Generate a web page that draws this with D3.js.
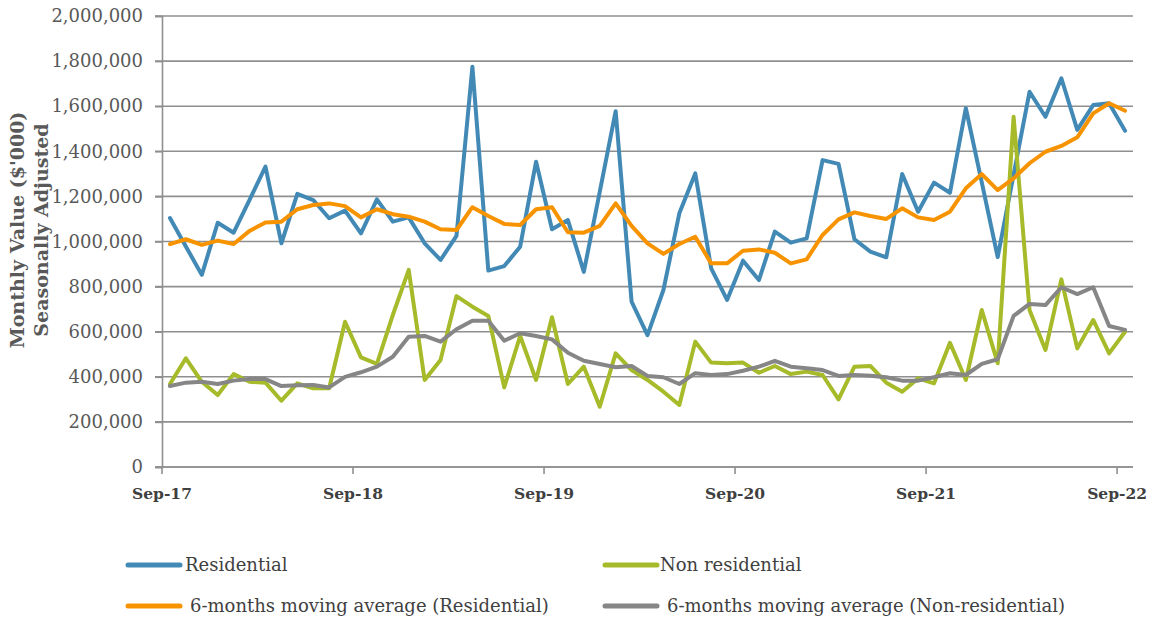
<!DOCTYPE html>
<html>
<head>
<meta charset="utf-8">
<script src="https://cdn.jsdelivr.net/npm/d3@7"></script>
<style>
  body { margin: 0; background: #fff; }
  text { font-family: "DejaVu Serif", serif; }
</style>
</head>
<body>
<svg id="chart"></svg>
<script>
// monthly values in $'000, Sep-17 .. Sep-22
const residential = [1104, 978, 852, 1083, 1039, 1185, 1332, 992, 1211, 1184,
    1103, 1137, 1036, 1187, 1088, 1107, 992, 918, 1025, 1775,
    871, 891, 977, 1354, 1054, 1095, 865, 1220, 1578, 733,
    585, 785, 1125, 1302, 881, 741, 915, 829, 1044, 995,
    1014, 1361, 1344, 1010, 955, 930, 1299, 1132, 1261, 1216,
    1591, 1262, 931, 1297, 1664, 1553, 1724, 1495, 1605, 1613, 1491];
const nonResidential = [368, 482, 378, 319, 412, 378, 374, 294, 371, 349,
    349, 644, 486, 457, 674, 874, 386, 475, 758, 711,
    670, 353, 581, 386, 664, 368, 445, 267, 504, 430,
    386, 334, 275, 556, 463, 460, 463, 418, 448, 412,
    423, 408, 300, 445, 448, 374, 334, 393, 371, 551,
    386, 696, 460, 1553, 696, 519, 832, 526, 652, 504, 600];
const resAverage = [988, 1010, 985, 1004, 989, 1047, 1084, 1088, 1143, 1162,
    1169, 1157, 1107, 1143, 1121, 1110, 1088, 1054, 1051, 1152,
    1113, 1078, 1073, 1143, 1152, 1041, 1039, 1069, 1169, 1069,
    992, 945, 989, 1021, 903, 903, 959, 965, 950, 903,
    921, 1029, 1098, 1129, 1113, 1100, 1147, 1107, 1095, 1132,
    1236, 1299, 1228, 1280, 1347, 1398, 1424, 1462, 1568, 1613, 1580];
const nonResAverage = [359, 374, 378, 368, 383, 390, 390, 359, 362, 364,
    353, 400, 420, 445, 489, 578, 581, 556, 611, 649,
    649, 560, 593, 581, 566, 507, 471, 457, 442, 448,
    404, 398, 368, 416, 408, 412, 427, 445, 471, 445,
    438, 430, 404, 408, 405, 398, 383, 383, 398, 416,
    408, 457, 478, 670, 723, 718, 797, 767, 797, 625, 608];
const xTickLabels = ["Sep-17", "Sep-18", "Sep-19", "Sep-20", "Sep-21", "Sep-22"];
const yTicks = [0, 200000, 400000, 600000, 800000, 1000000, 1200000, 1400000, 1600000, 1800000, 2000000];

const series = [
    {name: "Residential", values: residential, color: "#428ab5"},
    {name: "Non residential", values: nonResidential, color: "#a6ba2a"},
    {name: "6-months moving average (Residential)", values: resAverage, color: "#f89300"},
    {name: "6-months moving average (Non-residential)", values: nonResAverage, color: "#868686"}
];

const width = 1164, height = 620;
const svg = d3.select("#chart").attr("width", width).attr("height", height);

const months = d3.range(residential.length);
const x = d3.scaleBand()
    .domain(months)
    .range([162, 1133]);
const y = d3.scaleLinear()
    .domain([0, 2000000])
    .range([467, 16]);

// grid
svg.append("g")
    .selectAll("line")
    .data(yTicks)
    .enter()
    .append("line")
        .attr("x1", 155)
        .attr("x2", 1133)
        .attr("y1", d => y(d))
        .attr("y2", d => y(d))
        .attr("stroke", "#8f8f8f")
        .attr("stroke-width", 1.6);

// y axis
const yAxis = svg.append("g")
    .attr("transform", "translate(162,0)")
    .call(d3.axisLeft(y)
        .tickValues(yTicks)
        .tickSize(7)
        .tickFormat(d3.format(",")));
yAxis.select(".domain").attr("stroke", "#8f8f8f").attr("stroke-width", 1.6);
yAxis.selectAll(".tick line").attr("stroke", "#8f8f8f").attr("stroke-width", 1.6);
yAxis.selectAll(".tick text")
    .attr("x", -19)
    .style("font-size", "18px")
    .attr("fill", "#595959");

// x axis, ticks on the band edges every 12 months
const xAxis = svg.append("g")
    .attr("transform", "translate(0,467)");
xAxis.append("line")
    .attr("x1", 155).attr("x2", 1133)
    .attr("stroke", "#8f8f8f").attr("stroke-width", 1.6);
const xTicks = xTickLabels.map((label, i) => ({label: label, pos: x(i * 12)}));
xAxis.selectAll("line.tick")
    .data(xTicks)
    .enter()
    .append("line")
        .attr("class", "tick")
        .attr("x1", d => d.pos).attr("x2", d => d.pos)
        .attr("y1", 0).attr("y2", 7)
        .attr("stroke", "#8f8f8f").attr("stroke-width", 1.6);
xAxis.selectAll("text")
    .data(xTicks)
    .enter()
    .append("text")
        .attr("x", d => d.pos)
        .attr("y", 32)
        .attr("text-anchor", "middle")
        .style("font-size", "15.5px")
        .style("font-weight", "bold")
        .attr("fill", "#404040")
        .text(d => d.label);

// axis title
const title = svg.append("text")
    .attr("transform", "translate(24,230) rotate(-90)")
    .attr("text-anchor", "middle")
    .style("font-size", "19px")
    .style("font-weight", "bold")
    .attr("fill", "#595959");
title.append("tspan").attr("x", 0).attr("dy", 0).text("Monthly Value ($'000)");
title.append("tspan").attr("x", 0).attr("dy", 24).text("Seasonally Adjusted");

// lines
const line = d3.line()
    .x((d, i) => x(i) + x.bandwidth() / 2)
    .y(d => y(d * 1000));
series.forEach(s => {
    svg.append("path")
        .datum(s.values)
        .attr("fill", "none")
        .attr("stroke", s.color)
        .attr("stroke-width", 4)
        .attr("stroke-linejoin", "round")
        .attr("stroke-linecap", "round")
        .attr("d", line);
});

// legend
const legendPos = [
    {lx: 128, ty: 565, tx: 185},
    {lx: 605, ty: 565, tx: 660},
    {lx: 128, ty: 606, tx: 190},
    {lx: 605, ty: 606, tx: 667}
];
series.forEach((s, i) => {
    const p = legendPos[i];
    svg.append("line")
        .attr("x1", p.lx).attr("x2", p.lx + 52)
        .attr("y1", p.ty).attr("y2", p.ty)
        .attr("stroke", s.color)
        .attr("stroke-width", 5)
        .attr("stroke-linecap", "round");
    svg.append("text")
        .attr("x", p.tx)
        .attr("y", p.ty)
        .attr("dy", "0.35em")
        .style("font-size", "18px")
        .attr("fill", "#404040")
        .text(s.name);
});
</script>
</body>
</html>
